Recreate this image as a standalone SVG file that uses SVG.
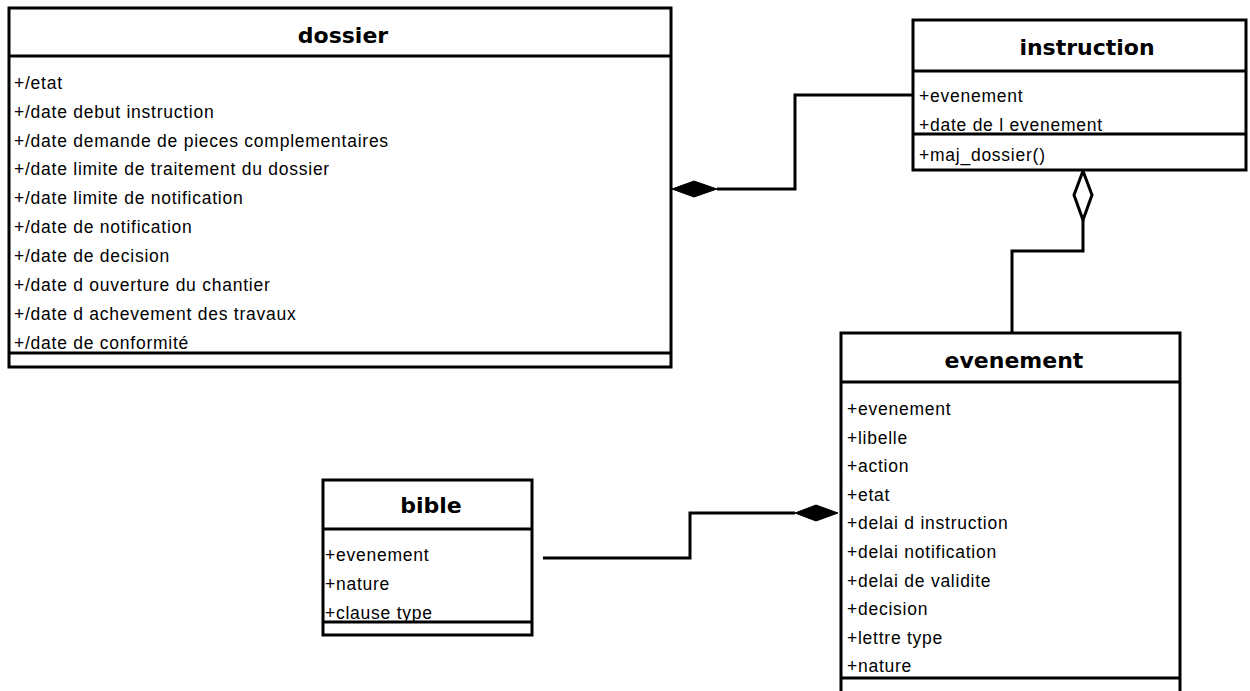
<svg xmlns="http://www.w3.org/2000/svg" width="1250" height="691" viewBox="0 0 1250 691">
<style>
.box{fill:#fff;stroke:#000;stroke-width:3}
.sep{stroke:#000;stroke-width:3;fill:none}
.title{font-family:"DejaVu Sans",Verdana,sans-serif;font-weight:bold;font-size:22px;fill:#000;text-anchor:middle}
.attr{font-family:"Liberation Sans",Arial,sans-serif;font-size:17.5px;letter-spacing:0.75px;fill:#000}
.conn{stroke:#000;stroke-width:3;fill:none}
</style>
<rect width="1250" height="691" fill="#fff"/>
<g id="connectors">
  <polyline class="conn" points="717,189 795,189 795,95 913,95"/>
  <polygon points="672,189 694,181 717,189 694,197" fill="#000" stroke="#000" stroke-width="1"/>
  <polyline class="conn" points="1083,220 1083,251 1012,251 1012,333"/>
  <polygon points="1083,171 1092,195 1083,220 1074,195" fill="#fff" stroke="#000" stroke-width="3"/>
  <polyline class="conn" points="543,558 690,558 690,513 795,513"/>
  <polygon points="795,513 816,505 838,513 816,521" fill="#000" stroke="#000" stroke-width="1"/>
</g>
<g id="dossier">
  <rect class="box" x="9" y="8" width="662" height="359"/>
  <line class="sep" x1="9" y1="56" x2="671" y2="56"/>
  <line class="sep" x1="9" y1="353" x2="671" y2="353"/>
  <text class="title" x="343" y="43">dossier</text>
  <text class="attr" x="14" y="89">+/etat</text>
  <text class="attr" x="14" y="118">+/date debut instruction</text>
  <text class="attr" x="14" y="146.5">+/date demande de pieces complementaires</text>
  <text class="attr" x="14" y="175">+/date limite de traitement du dossier</text>
  <text class="attr" x="14" y="204">+/date limite de notification</text>
  <text class="attr" x="14" y="233">+/date de notification</text>
  <text class="attr" x="14" y="262">+/date de decision</text>
  <text class="attr" x="14" y="290.5">+/date d ouverture du chantier</text>
  <text class="attr" x="14" y="319.5">+/date d achevement des travaux</text>
  <text class="attr" x="14" y="348.5">+/date de conformité</text>
</g>
<g id="instruction">
  <rect class="box" x="913" y="20" width="333" height="150"/>
  <line class="sep" x1="913" y1="71" x2="1246" y2="71"/>
  <line class="sep" x1="913" y1="134" x2="1246" y2="134"/>
  <text class="title" x="1087" y="55">instruction</text>
  <text class="attr" x="919" y="102">+evenement</text>
  <text class="attr" x="919" y="131">+date de l evenement</text>
  <text class="attr" x="919" y="161">+maj_dossier()</text>
</g>
<g id="evenement">
  <rect class="box" x="841" y="333" width="339" height="370"/>
  <line class="sep" x1="841" y1="382" x2="1180" y2="382"/>
  <line class="sep" x1="841" y1="678" x2="1180" y2="678"/>
  <text class="title" x="1014" y="368">evenement</text>
  <text class="attr" x="847" y="415">+evenement</text>
  <text class="attr" x="847" y="443.6">+libelle</text>
  <text class="attr" x="847" y="472.2">+action</text>
  <text class="attr" x="847" y="500.8">+etat</text>
  <text class="attr" x="847" y="529.4">+delai d instruction</text>
  <text class="attr" x="847" y="558">+delai notification</text>
  <text class="attr" x="847" y="586.6">+delai de validite</text>
  <text class="attr" x="847" y="615.2">+decision</text>
  <text class="attr" x="847" y="643.8">+lettre type</text>
  <text class="attr" x="847" y="672.4">+nature</text>
</g>
<g id="bible">
  <rect class="box" x="323" y="480" width="209" height="155"/>
  <line class="sep" x1="323" y1="529" x2="532" y2="529"/>
  <line class="sep" x1="323" y1="622" x2="532" y2="622"/>
  <text class="title" x="431" y="513">bible</text>
  <text class="attr" x="325" y="561">+evenement</text>
  <text class="attr" x="325" y="590">+nature</text>
  <text class="attr" x="325" y="619">+clause type</text>
</g>
</svg>
